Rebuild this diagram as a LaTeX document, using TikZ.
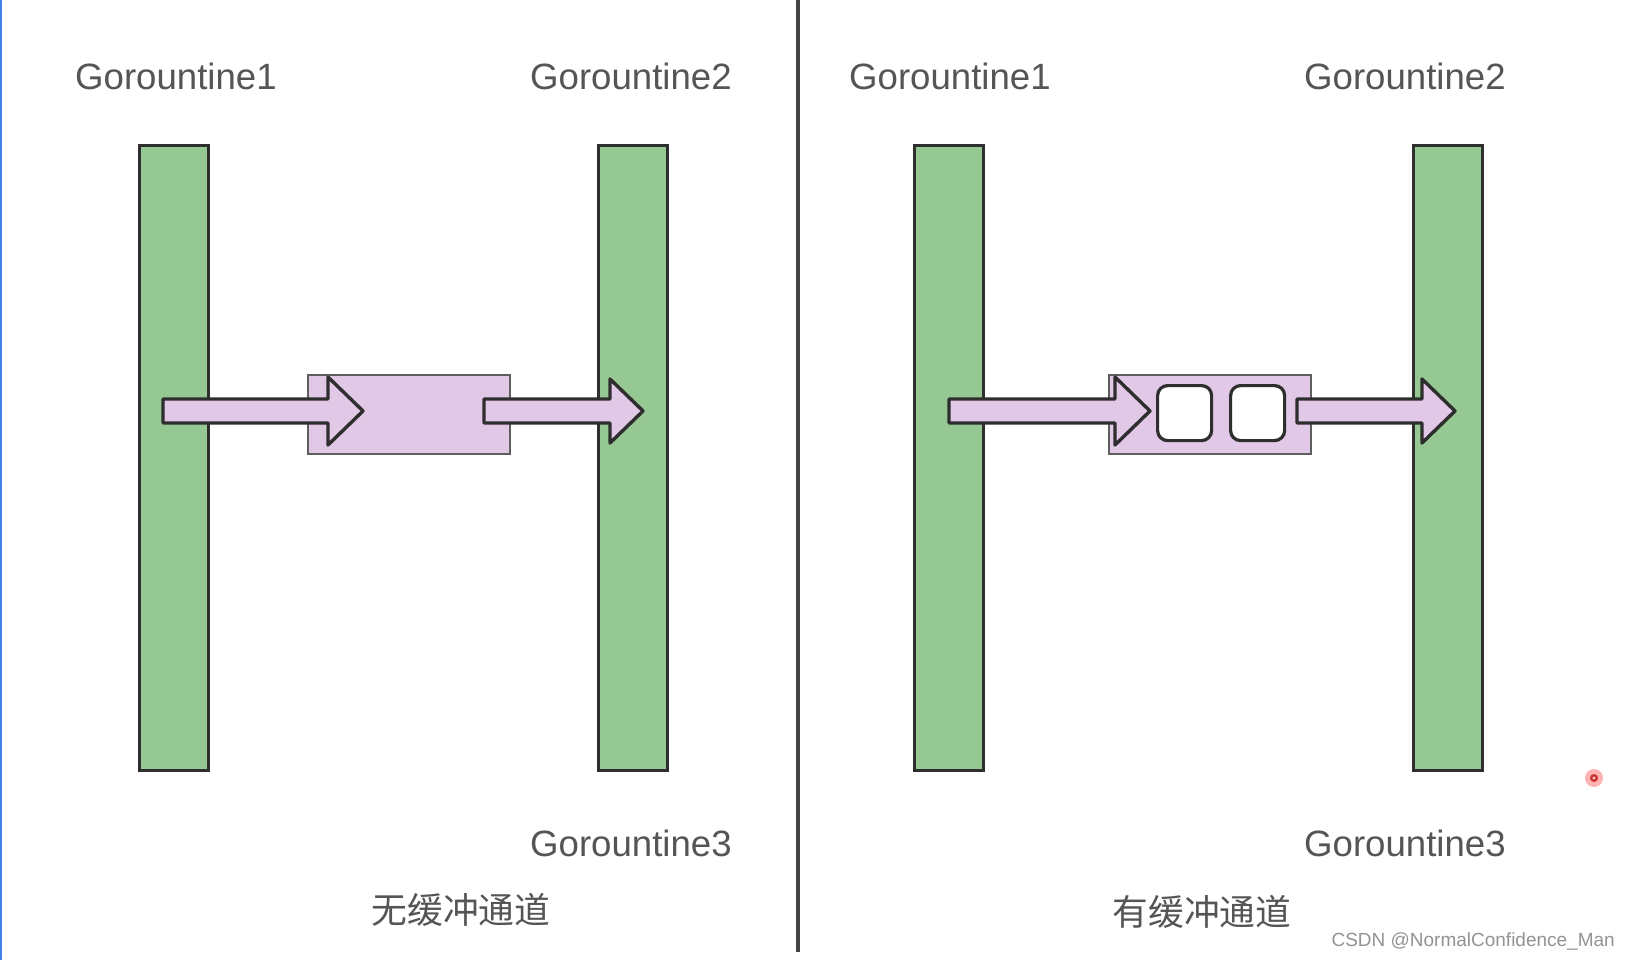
\documentclass[tikz,border=0pt]{standalone}
\usepackage{fontspec}
\setmainfont{Liberation Sans}
\newfontfamily\cjkfont{Noto Sans CJK SC}
\definecolor{bargreen}{HTML}{96C893}
\definecolor{lilac}{HTML}{E0C8E6}
\definecolor{edgedark}{HTML}{2E2E2E}
\definecolor{txtgray}{HTML}{555555}
\definecolor{boxedge}{HTML}{5E5E5E}
\tikzset{
  bar/.style={draw=edgedark, line width=3pt, fill=bargreen, minimum width=69pt, minimum height=625pt, inner sep=0pt, anchor=north west},
  chan/.style={draw=boxedge, line width=1.8pt, fill=lilac, minimum width=202pt, minimum height=79pt, inner sep=0pt, anchor=north west},
  slot/.style={draw=edgedark, line width=3.2pt, fill=white, rounded corners=10pt, minimum width=54pt, minimum height=55pt, inner sep=0pt, anchor=north west},
  blockarrow/.style={draw=edgedark, line width=3.4pt, fill=lilac, line join=round},
  gname/.style={text=txtgray, font=\fontsize{36.6}{40}\selectfont, inner sep=0pt},
  captext/.style={text=txtgray, font=\cjkfont\fontsize{35.8}{40}\selectfont, inner sep=0pt},
}
\begin{document}
\begin{tikzpicture}[x=1pt, y=-1pt]
\useasboundingbox (0,0) rectangle (1630,960);
\fill[white] (0,0) rectangle (1630,960);
% left blue edge
\draw[color={rgb,255:red,70;green,130;blue,230}, line width=2.5pt] (1.2,0) -- (1.2,960);
% divider
\coordinate (dtop) at (798,0);
\coordinate (dbot) at (798,952);
\draw[color=edgedark!90, line width=4pt] (dtop) -- (dbot);

% ---------- left panel ----------
\node[bar] (g1L) at (138,144) {};
\node[bar] (g2L) at (597,144) {};
\node[chan] (chL) at (307,374) {};
\draw[blockarrow] (163,399) -- (328,399) -- (328,377) -- (363,411) -- (328,445) -- (328,423) -- (163,423) -- cycle;
\draw[blockarrow] (484,399) -- (610,399) -- (610,379) -- (643,411) -- (610,443) -- (610,423) -- (484,423) -- cycle;
\node[gname, anchor=base west] (t1L) at (75,90) {Gorountine1};
\node[gname, anchor=base west] (t2L) at (530,90) {Gorountine2};
\node[gname, anchor=base west] (t3L) at (530,856) {Gorountine3};
\node[captext] (capL) at (461,910) {无缓冲通道};

% ---------- right panel ----------
\node[bar] (g1R) at (913,144) {};
\node[bar] (g2R) at (1412,144) {};
\node[chan] (chR) at (1108,374) {};
\draw[blockarrow] (949,399) -- (1115,399) -- (1115,377) -- (1150,411) -- (1115,445) -- (1115,423) -- (949,423) -- cycle;
\node[slot] (s1) at (1156,384) {};
\node[slot] (s2) at (1229,384) {};
\draw[blockarrow] (1297,399) -- (1422,399) -- (1422,379) -- (1455,411) -- (1422,443) -- (1422,423) -- (1297,423) -- cycle;
\node[gname, anchor=base west] (t1R) at (849,90) {Gorountine1};
\node[gname, anchor=base west] (t2R) at (1304,90) {Gorountine2};
\node[gname, anchor=base west] (t3R) at (1304,856) {Gorountine3};
\node[captext] (capR) at (1202,912) {有缓冲通道};

% recording dot
\fill[red!30] (1594,778) circle (9pt);
\fill[red!75!black!80] (1594,778) circle (4pt);
\fill[red!20] (1594,778) circle (1.6pt);

% watermark
\node[text=gray!85, font=\fontsize{19}{22}\selectfont, anchor=east, inner sep=0pt] (wm) at (1615,941) {CSDN @NormalConfidence\_Man};
\end{tikzpicture}
\end{document}
